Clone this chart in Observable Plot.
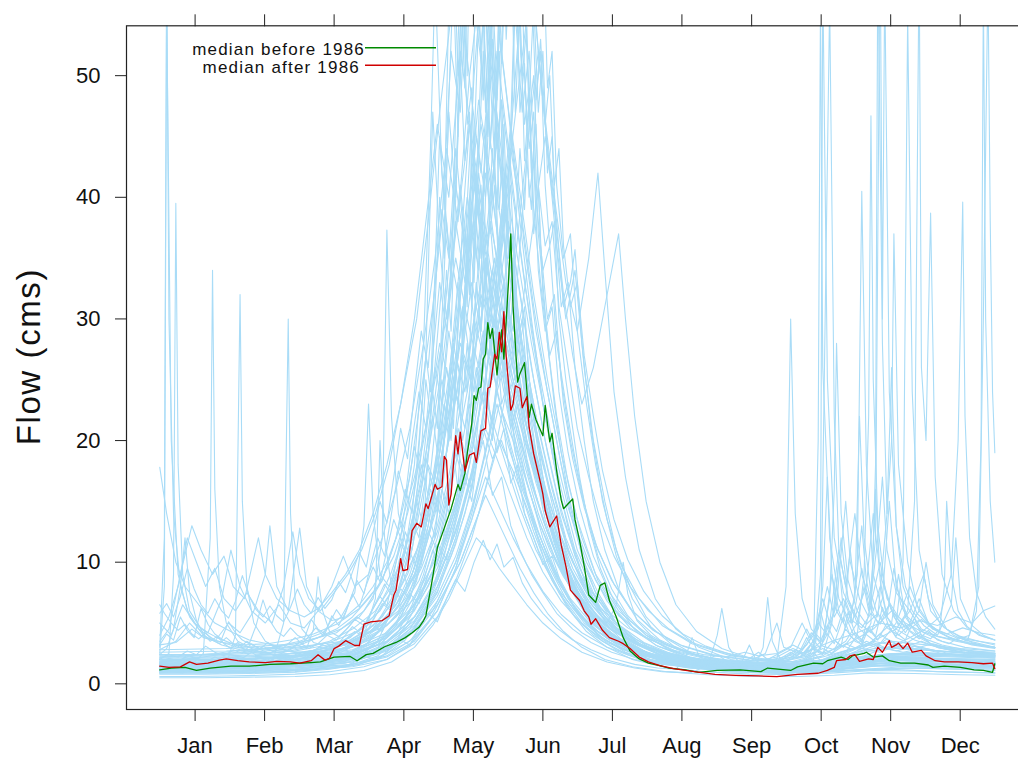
<!DOCTYPE html>
<html>
<head>
<meta charset="utf-8">
<script src="https://cdn.jsdelivr.net/npm/d3@7"></script>
<script src="https://cdn.jsdelivr.net/npm/@observablehq/plot@0.6"></script>
<style>
  html, body { margin: 0; padding: 0; background: #fff; overflow: hidden; }
  #chart svg { display: block; max-width: none; }
</style>
</head>
<body>
<div id="chart"></div>
<script>
// ---------- data (day of year, flow in cms) ----------
const monthLabels = ["Jan","Feb","Mar","Apr","May","Jun","Jul","Aug","Sep","Oct","Nov","Dec"];
const monthTicks  = [16.4, 46.7, 77.0, 107.4, 137.7, 168.0, 198.3, 228.6, 259.0, 289.3, 319.6, 349.9];
const yTicks = [0, 10, 20, 30, 40, 50];

const medianBefore = [[1,1.15],[6,1.3],[12,1.35],[17,1.1],[23,1.3],[32,1.45],[40,1.45],[49,1.6],[58,1.65],[67,1.75],[71,1.8],[77,2.2],[84,2.25],[87,1.9],[91,2.4],[94,2.5],[99,3.05],[104,3.4],[108,3.8],[111,4.2],[114,4.65],[116,5.2],[117,5.6],[120,8.8],[122,11.2],[125,12.8],[128,14.4],[131,16.4],[132,15.9],[134,17.3],[135,18.9],[137,21.4],[138,23.7],[139,23.3],[140,24.3],[141,24.4],[142,26.7],[143,27.1],[144,29.7],[145,28.4],[146,29.2],[148,25.4],[149,27.4],[150,29.1],[151,26.7],[153,33],[154,37.0],[155,31],[157,24.8],[158,25.5],[160,26.4],[162,21.9],[163,23.0],[165,21.7],[168,20.4],[169,22.9],[171,19.9],[172,20.6],[174,17.5],[176,15.1],[177,14.4],[179,14.8],[181,15.2],[182,13.5],[184,11.8],[186,9.7],[188,7.3],[191,6.7],[193,8.1],[195,8.3],[197,6.85],[200,5.5],[203,3.8],[206,2.7],[210,2.05],[214,1.7],[219,1.5],[223,1.3],[230,1.15],[236,0.95],[244,1.1],[254,1.15],[263,1.0],[266,1.3],[276,1.1],[279,1.4],[286,1.7],[290,1.65],[292,1.9],[298,2.2],[301,2.0],[303,2.3],[308,2.5],[309,2.6],[312,2.2],[316,2.3],[319,1.9],[324,1.7],[330,1.7],[336,1.55],[338,1.35],[343,1.45],[350,1.35],[356,1.15],[360,1.1],[364,0.95],[365,1.65]];

const medianAfter = [[1,1.45],[5,1.35],[10,1.4],[14,1.8],[17,1.6],[22,1.7],[27,1.95],[30,2.05],[35,1.9],[40,1.8],[47,1.75],[52,1.85],[58,1.8],[62,1.7],[67,1.9],[70,2.4],[73,1.95],[75,2.1],[77,2.9],[79,3.1],[82,3.55],[86,3.15],[88,3.15],[90,4.9],[93,5.1],[98,5.2],[101,5.6],[103,7.3],[104,7.7],[106,10.3],[107,9.3],[109,9.4],[111,12.6],[113,13.2],[115,12.9],[117,14.8],[118,14.4],[121,16.4],[122,16.0],[124,16.2],[125,18.7],[126,18.4],[127,14.7],[128,15.6],[130,20.4],[131,18.9],[132,20.7],[134,17.5],[136,18.8],[138,19.0],[139,18.2],[141,20.8],[143,21.0],[144,24.3],[145,24.4],[147,27.1],[148,26.7],[149,28.9],[150,27.3],[151,30.6],[152,26.9],[154,22.5],[155,23.0],[156,24.5],[158,24.3],[159,22.7],[161,23.6],[162,21.1],[164,18.9],[165,18.1],[167,16.5],[168,15.6],[169,14.25],[171,12.9],[174,13.8],[176,11.4],[178,9.7],[180,7.7],[184,6.85],[186,6.0],[188,5.5],[189,4.9],[191,5.35],[194,4.4],[197,3.8],[201,3.5],[203,3.3],[206,2.9],[210,2.2],[214,1.8],[219,1.5],[225,1.25],[234,1.0],[243,0.77],[252,0.7],[262,0.65],[270,0.6],[279,0.77],[288,0.87],[292,1.1],[295,1.35],[296,1.9],[300,2.0],[302,2.3],[304,2.4],[306,1.85],[310,2.05],[312,2.0],[314,3.0],[316,2.6],[319,3.55],[320,3.0],[322,3.2],[323,3.35],[325,2.9],[327,3.35],[329,2.6],[333,2.75],[335,2.3],[339,1.9],[343,1.8],[349,1.8],[355,1.75],[360,1.65],[364,1.7],[365,1.25]];

const year01 = [[1,17.8],[4,14],[8,10],[12,8],[18,6.5],[25,5],[33,4.2],[40,3.6],[48,3.3],[55,3],[62,3.2],[70,3.8],[78,4.5],[85,5.5],[92,7],[98,8.5],[104,12],[110,17],[115,24],[120,31],[124,38],[128,52],[132,47],[136,63],[140,58],[145,70],[150,52],[155,44],[160,36],[165,29],[170,24],[175,19],[180,14],[186,10],[192,7.5],[200,5],[210,3.2],[220,2.3],[232,1.7],[245,1.3],[260,1.1],[275,1.2],[285,1.6],[295,2.4],[305,3],[315,2.6],[325,3.4],[335,2.9],[345,2.5],[355,2.3],[365,2.1]];
const year02 = [[1,3],[3,12],[4,60],[5,30],[7,14],[10,8],[14,5.5],[20,4],[28,3.2],[36,2.8],[45,2.5],[55,2.6],[65,3],[75,3.5],[85,4.5],[95,6],[102,8],[108,11],[114,16],[120,22],[125,30],[130,41],[134,36],[138,50],[143,62],[148,55],[153,47],[158,38],[163,30],[168,23],[174,17],[180,12],[187,8],[195,5.5],[205,3.5],[215,2.4],[228,1.7],[245,1.2],[265,1],[285,1.1],[300,1.5],[315,2],[330,2.2],[345,2],[365,1.8]];
const year03 = [[1,2.5],[3,8],[4,56],[6,20],[9,9],[13,6],[18,4.5],[25,3.6],[35,3],[45,2.6],[55,2.3],[65,2.4],[75,2.8],[85,3.4],[95,4.5],[105,6],[112,9],[118,13],[124,19],[130,26],[135,33],[140,42],[144,36],[148,45],[152,38],[157,30],[162,24],[167,19],[173,14],[180,9.5],[188,6.5],[196,4.5],[206,3],[218,2],[232,1.4],[250,1],[270,0.9],[290,1],[305,1.4],[320,1.8],[340,1.6],[365,1.5]];
const year04 = [[1,2],[5,2.5],[7,9],[8,39.5],[9,18],[11,9],[14,6],[19,4.5],[26,3.8],[34,3.2],[44,2.9],[54,2.7],[64,2.6],[74,3],[84,3.6],[94,4.8],[102,6.5],[109,9],[115,12],[121,16],[127,22],[132,28],[137,25],[141,32],[146,29],[151,24],[156,20],[162,16],[168,12],[175,8.5],[183,5.8],[192,4],[203,2.8],[215,2],[230,1.5],[250,1.1],[270,1],[290,1.2],[305,1.6],[320,2],[335,1.9],[350,1.7],[365,1.6]];
const year05 = [[1,1.5],[8,1.4],[15,1.6],[20,2.5],[23,12],[24,34],[25,16],[27,8],[30,5],[35,3.5],[42,2.8],[50,2.4],[60,2.3],[70,2.6],[80,3.2],[90,4.2],[98,5.5],[106,8],[113,11],[119,15],[125,21],[130,27],[134,24],[138,30],[143,35],[147,31],[152,26],[157,22],[163,18],[170,14],[177,10],[185,7],[193,4.8],[203,3.2],[215,2.2],[230,1.6],[248,1.2],[268,1],[288,1.1],[300,1.3],[315,1.7],[330,1.8],[348,1.6],[365,1.5]];
const year06 = [[1,1.2],[10,1.3],[20,1.4],[30,1.6],[34,4],[36,32],[37,15],[39,8],[42,5],[47,3.5],[54,2.8],[62,2.5],[72,2.7],[82,3.3],[92,4.2],[100,5.6],[108,7.5],[115,10],[121,14],[127,20],[132,26],[137,33],[141,29],[145,38],[150,33],[155,27],[160,22],[166,17],[172,13],[179,9],[187,6.2],[196,4.2],[206,2.9],[218,2],[233,1.4],[250,1.1],[270,0.9],[290,1],[305,1.3],[320,1.6],[340,1.5],[365,1.4]];
const year07 = [[1,1],[12,1.1],[25,1.2],[40,1.4],[50,1.7],[55,5],[57,30],[58,14],[60,7],[63,4.5],[68,3.4],[75,3],[83,3.3],[92,4],[100,5.2],[108,7],[115,9.5],[122,13],[128,18],[133,24],[138,30],[142,27],[146,34],[151,30],[156,25],[161,20],[167,16],[173,12],[180,8.5],[188,5.8],[197,3.9],[207,2.7],[219,1.9],[234,1.4],[252,1.1],[272,0.9],[292,1],[308,1.2],[325,1.4],[345,1.3],[365,1.2]];
const year08 = [[1,1.8],[10,2],[20,2.2],[30,2.5],[40,2.7],[50,3],[60,3.3],[70,3.8],[80,4.5],[88,5.5],[94,7],[98,12],[100,37.3],[102,22],[105,14],[109,11],[114,13],[120,17],[126,24],[131,31],[136,40],[140,48],[145,42],[150,34],[155,28],[160,22],[166,17],[173,12],[180,8.5],[188,6],[197,4],[208,2.8],[220,2],[235,1.5],[255,1.2],[275,1.1],[290,1.3],[305,1.8],[320,2.2],[335,2.1],[350,2],[365,1.9]];
const year09 = [[1,1.3],[15,1.4],[30,1.5],[45,1.7],[60,2],[72,2.4],[82,3],[90,4],[95,7],[97,20],[99,12],[102,8],[106,7],[111,9],[117,13],[123,19],[129,27],[134,35],[139,45],[143,40],[148,52],[153,44],[158,36],[163,29],[169,22],[175,16],[182,11],[190,7.5],[199,5],[210,3.3],[222,2.3],[237,1.6],[255,1.2],[275,1],[292,1.1],[310,1.5],[330,1.6],[350,1.5],[365,1.4]];
const year10 = [[1,2.2],[12,2.3],[25,2.5],[38,2.8],[50,3],[62,3.5],[72,4.2],[80,5.5],[86,7.5],[90,13],[92,23],[94,14],[97,9],[101,8],[106,10],[112,14],[118,19],[124,26],[129,34],[133,30],[137,39],[141,46],[146,40],[151,33],[156,27],[162,21],[168,16],[175,12],[183,8],[192,5.5],[202,3.7],[214,2.5],[228,1.8],[245,1.4],[265,1.2],[285,1.3],[300,1.8],[315,2.4],[330,2.6],[348,2.4],[365,2.2]];
const year11 = [[1,4],[5,5.5],[9,8],[13,12],[17,10],[21,8],[25,9.5],[29,7],[34,6],[39,7.5],[44,6],[50,5],[55,8],[59,12.5],[62,9],[66,7],[71,6],[77,7.5],[83,9],[89,11],[95,14],[101,18],[107,24],[113,30],[118,38],[123,47],[128,55],[133,62],[138,56],[143,48],[148,40],[154,33],[160,27],[166,21],[172,16],[179,11],[186,8],[195,5.5],[205,3.8],[217,2.6],[232,1.9],[250,1.5],[268,1.4],[285,1.7],[300,2.5],[312,3.5],[325,3],[340,2.7],[355,2.5],[365,2.4]];
const year12 = [[1,5],[6,4],[11,6.5],[16,5],[22,4.2],[28,7],[32,11],[36,8],[41,6],[47,5],[53,6.5],[58,5],[64,4.6],[70,6],[76,8],[81,10.5],[86,8],[92,9],[98,12],[104,16],[110,21],[116,28],[121,35],[126,44],[131,38],[136,50],[141,58],[146,50],[151,42],[157,35],[163,28],[169,22],[176,16],[183,11],[191,7.5],[200,5],[212,3.4],[225,2.4],[240,1.8],[258,1.5],[275,1.6],[290,2.2],[305,3],[320,3.5],[335,3.2],[350,2.9],[365,2.7]];
const year13 = [[1,0.6],[15,0.6],[30,0.65],[45,0.7],[60,0.8],[75,1],[90,1.4],[100,2],[110,3.2],[118,5],[125,7.5],[132,10],[138,13],[143,15.5],[148,13.5],[153,11.5],[158,9.5],[164,7.5],[170,5.8],[177,4.3],[185,3],[195,2],[207,1.4],[222,1],[240,0.75],[260,0.6],[280,0.6],[295,0.7],[310,0.9],[330,0.85],[350,0.75],[365,0.7]];
const year14 = [[1,0.8],[20,0.8],[40,0.85],[60,0.95],[75,1.2],[88,1.6],[100,2.5],[108,3.6],[115,5.5],[121,8],[127,11],[133,14.5],[138,18],[142,21],[146,18.5],[150,20],[155,17],[160,14],[166,11],[172,8.5],[179,6.2],[187,4.3],[196,3],[207,2],[220,1.4],[238,1],[258,0.8],[278,0.75],[295,0.9],[312,1.1],[330,1.05],[350,0.95],[365,0.9]];
const year15 = [[1,1],[20,1],[40,1.1],[60,1.2],[75,1.5],[88,2.2],[96,3.5],[102,6],[106,10],[109,8],[113,9],[118,12],[123,16],[128,21],[133,27],[138,24],[142,29],[147,25],[152,21],[157,17.5],[163,14],[169,11],[176,8],[184,5.6],[193,3.9],[204,2.6],[217,1.8],[232,1.3],[250,1],[270,0.85],[290,0.95],[310,1.2],[330,1.3],[350,1.2],[365,1.1]];
const year16 = [[1,1.5],[20,1.5],[40,1.6],[60,1.8],[78,2.2],[92,3],[104,4.5],[114,7],[122,10],[130,15],[137,21],[143,28],[149,36],[154,45],[158,55],[162,62],[166,52],[170,44],[174,36],[178,30],[182,34],[186,26],[190,20],[195,15],[200,11],[206,8],[213,5.5],[222,3.7],[233,2.5],[247,1.8],[265,1.4],[285,1.3],[300,1.6],[315,2],[335,1.9],[365,1.7]];
const year17 = [[1,1.2],[25,1.2],[50,1.4],[75,1.8],[95,2.8],[108,4.5],[118,7],[127,11],[135,17],[142,24],[148,32],[153,42],[158,50],[163,58],[168,48],[173,40],[178,33],[183,29],[188,35],[192,42],[195,34],[199,24],[204,17],[210,11],[217,7],[226,4.5],[236,3],[250,2],[268,1.5],[288,1.4],[305,1.7],[325,2],[345,1.8],[365,1.6]];
const year18 = [[1,0.9],[25,0.9],[50,1],[75,1.3],[95,2],[110,3.5],[120,6],[130,10],[138,15],[145,21],[151,28],[156,35],[161,44],[166,52],[170,44],[174,38],[177,31],[180,33],[182,35.7],[185,28],[189,21],[194,15],[200,10.5],[207,7],[215,4.7],[225,3.1],[238,2.1],[255,1.5],[275,1.2],[295,1.2],[315,1.5],[340,1.4],[365,1.3]];
const year19 = [[1,1.4],[25,1.4],[50,1.5],[75,1.8],[95,2.6],[110,4],[122,6.5],[132,10],[140,14],[147,19],[153,25],[159,31],[164,38],[169,45],[173,39],[177,32],[181,27],[185,23],[190,26],[195,31],[199,35],[201,37],[204,30],[208,22],[213,15],[219,10],[226,6.5],[235,4.3],[246,2.9],[260,2],[278,1.6],[295,1.6],[312,2],[330,2.1],[350,1.9],[365,1.7]];
const year20 = [[1,1.6],[15,1.7],[30,1.9],[45,2.1],[60,2.3],[72,2.7],[84,3.4],[95,4.6],[104,6.5],[112,9],[119,13],[125,18],[130,24],[134,21],[138,27],[143,32],[148,28],[153,24],[158,26],[163,22],[168,18],[174,14],[181,10],[189,7],[198,4.8],[209,3.2],[221,2.2],[236,1.6],[254,1.2],[274,1],[292,1.1],[310,1.5],[330,1.6],[350,1.5],[365,1.4]];
const year21 = [[1,1.1],[30,1.1],[60,1.2],[85,1.5],[100,2.2],[112,3.5],[122,6],[130,9.5],[137,14],[143,19],[148,24],[153,20],[158,16],[164,12.5],[170,9.5],[177,7],[185,5],[194,3.5],[205,2.4],[218,1.7],[232,1.3],[248,1.1],[262,1.2],[270,2],[274,8],[276,30],[278,14],[281,7],[285,4.5],[290,3.5],[295,6],[298,12],[301,7],[306,4.5],[312,3.6],[320,5],[323,9],[326,5.5],[332,3.8],[340,3],[350,2.6],[365,2.3]];
const year22 = [[1,1.3],[30,1.3],[60,1.4],[85,1.8],[100,2.8],[110,4.5],[118,7],[125,10.5],[131,15],[136,20],[141,27],[146,34],[151,29],[156,24],[162,19],[168,15],[175,11],[183,7.5],[192,5],[203,3.3],[215,2.3],[230,1.6],[248,1.2],[265,1],[280,1.1],[286,2],[289,9],[290,58],[292,25],[295,12],[299,7.5],[304,5.5],[309,8],[312,14],[315,9],[320,6],[326,4.6],[333,3.8],[342,3.2],[352,2.8],[365,2.5]];
const year23 = [[1,2],[25,2],[50,2.2],[75,2.6],[92,3.6],[104,5.5],[114,8.5],[122,12.5],[129,18],[135,24],[140,31],[145,40],[150,48],[155,40],[160,33],[166,26],[172,20],[179,14.5],[187,10],[196,6.8],[206,4.6],[218,3.1],[232,2.2],[250,1.6],[268,1.4],[282,1.6],[289,3],[293,56],[295,22],[297,11],[301,7],[306,5],[311,4.2],[316,7],[319,15],[322,8],[327,5.5],[334,4.2],[342,3.5],[352,3],[365,2.7]];
const year24 = [[1,1.7],[30,1.7],[60,1.9],[85,2.4],[100,3.5],[112,5.5],[121,8.5],[129,13],[136,18],[142,24],[148,31],[153,38],[158,32],[163,26],[169,20],[175,15],[182,10.5],[190,7],[200,4.6],[212,3.1],[226,2.2],[242,1.6],[260,1.3],[278,1.3],[292,1.8],[300,2.6],[305,4],[308,9],[310,22],[311,46.7],[312,25],[314,13],[317,8],[321,5.5],[326,4.2],[332,6],[335,10],[338,6.5],[344,4.5],[352,3.6],[365,3]];
const year25 = [[1,1.4],[30,1.4],[60,1.5],[85,1.9],[100,2.8],[112,4.5],[122,7.5],[130,12],[137,17],[143,23],[149,30],[154,37],[159,31],[164,25],[170,19],[176,14],[184,9.5],[193,6.3],[204,4.2],[216,2.8],[230,2],[246,1.5],[264,1.3],[282,1.4],[296,2],[306,2.8],[311,5],[313,18],[314,60],[316,28],[318,14],[320,20],[321,37],[323,18],[327,10],[331,6.5],[337,4.8],[345,3.8],[355,3.2],[365,2.9]];
const year26 = [[1,1.9],[30,2],[60,2.2],[85,2.7],[100,3.8],[112,6],[122,9.5],[130,14],[137,20],[143,27],[149,35],[154,44],[159,38],[164,31],[170,24],[176,18],[183,12.5],[191,8.5],[201,5.6],[213,3.8],[227,2.6],[243,1.9],[260,1.6],[276,1.7],[290,2.3],[300,3.5],[305,5],[308,8],[310,6],[313,12],[315,62],[316,30],[317,58],[319,24],[322,13],[326,8],[331,5.8],[338,4.6],[348,3.8],[365,3.3]];
const year27 = [[1,1.5],[30,1.5],[60,1.7],[85,2.1],[100,3],[112,4.8],[122,7.6],[130,11.5],[137,16],[143,22],[149,29],[155,25],[161,21],[167,17],[173,13],[180,9.5],[188,6.8],[198,4.7],[210,3.2],[224,2.3],[240,1.7],[258,1.4],[276,1.4],[292,1.9],[305,2.6],[315,3.3],[322,5],[325,10],[327,55],[329,24],[332,11],[336,7],[341,5],[347,4],[353,3.5],[357,6],[359,20],[360,57],[361,30],[363,15],[365,10]];
const year28 = [[1,2.6],[30,2.7],[60,3],[85,3.6],[100,4.8],[112,7],[122,10.5],[130,15],[137,21],[143,28],[149,37],[154,46],[159,39],[164,32],[170,25],[176,19],[183,13.5],[191,9],[201,6],[213,4],[227,2.8],[243,2],[260,1.7],[276,1.8],[290,2.5],[302,3.4],[312,4.5],[320,6],[326,5],[333,4.3],[340,3.9],[348,3.6],[354,4],[358,8],[360,30],[362,58],[363,38],[364,24],[365,19]];
const year29 = [[1,1.2],[30,1.2],[60,1.3],[85,1.6],[100,2.3],[112,3.8],[122,6],[130,9.5],[137,13.5],[143,18],[149,23],[155,20],[161,16.5],[167,13],[174,10],[182,7.2],[191,5],[201,3.5],[213,2.4],[228,1.7],[245,1.3],[263,1.1],[280,1.2],[295,1.6],[308,2.3],[318,3],[326,3.6],[334,4.4],[341,5.5],[346,9],[349,20],[351,39.6],[352,22],[354,12],[357,7.5],[361,5.5],[365,4.5]];
const year30 = [[1,1.8],[30,1.8],[60,2],[85,2.5],[100,3.5],[112,5.5],[122,8.5],[130,12.5],[137,17.5],[143,23],[149,30],[155,26],[161,21],[167,17],[174,13],[181,9.5],[189,6.8],[199,4.7],[211,3.2],[225,2.3],[241,1.7],[258,1.4],[275,1.5],[290,2],[303,2.8],[313,3.6],[322,4.5],[327,6],[330,15],[332,60],[333,26],[335,20],[337,38.7],[339,17],[342,9],[347,6],[353,4.6],[360,3.9],[365,3.6]];
const year31 = [[1,1],[30,1],[60,1.1],[85,1.4],[100,2],[112,3.3],[122,5.5],[130,8.5],[137,12],[143,16],[149,20],[155,17.5],[161,14.5],[167,11.5],[174,8.6],[182,6.2],[191,4.4],[202,3],[215,2],[230,1.4],[248,1.1],[265,1],[280,1.2],[286,3],[288,20],[289,56],[290,26],[293,12],[297,7],[302,5],[305,9],[307,40.5],[309,18],[312,9],[316,6],[322,4.5],[330,3.6],[340,3],[352,2.6],[365,2.4]];
const year32 = [[1,1.3],[25,1.3],[50,1.4],[70,1.7],[85,2.3],[97,3.5],[106,5.5],[113,8.5],[118,13],[122,19],[126,28],[129,38],[132,50],[135,64],[138,56],[141,66],[145,54],[149,44],[154,35],[159,28],[165,22],[171,17],[178,12],[186,8.2],[195,5.5],[206,3.6],[219,2.4],[235,1.7],[253,1.3],[272,1.1],[292,1.2],[310,1.6],[330,1.8],[350,1.6],[365,1.5]];
const year33 = [[1,2.4],[20,2.4],[40,2.6],[60,2.9],[75,3.4],[87,4.3],[97,6],[105,8.5],[111,12],[116,17],[120,24],[124,33],[127,47],[130,40],[133,55],[137,48],[141,42],[145,51],[149,43],[154,34],[159,27],[165,21],[171,16],[178,11.5],[186,7.8],[195,5.2],[206,3.5],[219,2.4],[236,1.7],[254,1.4],[274,1.3],[292,1.6],[310,2.2],[330,2.5],[350,2.4],[365,2.3]];
const year34 = [[1,1.6],[25,1.6],[50,1.8],[70,2.2],[84,3],[94,4.5],[102,7],[108,11],[113,17],[117,27],[120,47],[123,36],[126,30],[130,38],[134,33],[138,42],[143,36],[148,29],[154,23],[160,18],[166,14],[173,10.5],[181,7.5],[190,5.2],[200,3.6],[212,2.5],[227,1.8],[245,1.4],[265,1.2],[285,1.3],[305,1.7],[325,2],[345,1.9],[365,1.8]];
const year35 = [[1,2.1],[25,2.1],[50,2.3],[70,2.8],[84,3.8],[94,5.5],[101,8],[107,12],[112,18],[116,28],[119,44],[121,58],[124,42],[128,34],[132,40],[136,46],[140,39],[145,33],[150,27],[156,22],[162,17],[169,13],[176,9.5],[184,6.8],[193,4.8],[204,3.3],[217,2.3],[233,1.7],[252,1.3],[272,1.2],[292,1.4],[312,1.9],[335,2.1],[365,2]];
const year36 = [[1,2.8],[8,3.5],[14,5],[19,4],[25,3.5],[31,5],[36,4.2],[42,6],[47,9],[49,13],[52,8],[57,6],[62,12.8],[65,8],[70,6],[76,5.2],[82,5.5],[88,6.5],[94,8],[100,10],[106,13],[112,17],[118,22],[124,28],[130,35],[135,30],[140,26],[145,31],[150,27],[156,22],[162,17.5],[168,13.5],[175,10],[183,7],[192,4.9],[203,3.4],[216,2.4],[232,1.8],[250,1.5],[268,1.4],[285,1.7],[300,2.4],[315,3],[330,2.8],[350,2.6],[365,2.5]];
const year37 = [[1,0.5],[20,0.5],[40,0.55],[60,0.6],[75,0.75],[90,1.1],[102,1.8],[112,3],[120,4.8],[127,7],[133,9.5],[139,12],[144,11],[149,9.5],[155,8],[161,6.5],[168,5],[176,3.7],[185,2.6],[196,1.8],[208,1.3],[220,1],[232,0.9],[240,1.5],[244,4],[246,6.2],[249,3],[254,1.6],[260,1.2],[264,3],[266,7.1],[268,3.5],[272,1.8],[280,1.2],[292,1],[305,1.1],[320,1.2],[340,1],[365,0.9]];
const year38 = [[1,3.5],[5,4.5],[10,9],[15,13],[19,11],[24,9],[29,10.5],[33,8],[38,7],[44,12],[47,9],[52,7],[58,6],[64,5.5],[70,6.2],[76,7.5],[82,9],[88,11],[94,14],[100,18],[106,23],[112,30],[117,38],[122,46],[127,40],[132,52],[137,45],[142,38],[147,32],[153,26],[159,21],[165,16.5],[172,12.5],[179,9],[187,6.3],[196,4.4],[207,3],[220,2.1],[236,1.6],[254,1.3],[272,1.3],[290,1.7],[305,2.5],[320,3],[335,2.8],[350,2.6],[365,2.5]];
const year39 = [[1,1.5],[30,1.5],[60,1.6],[85,2],[100,2.9],[112,4.6],[122,7.2],[130,10.5],[137,14.5],[143,19],[148,23],[153,19.5],[159,16],[165,12.8],[172,9.8],[180,7],[189,5],[199,3.5],[211,2.4],[225,1.8],[240,1.5],[255,1.6],[265,2.5],[270,5],[273,3],[280,2.5],[286,4],[290,7],[293,5],[297,11],[300,8],[304,14],[307,9],[311,6.5],[315,10],[318,7],[323,5.5],[328,8],[332,6],[338,4.5],[345,3.8],[353,3.4],[365,3]];
const year40 = [[1,2],[30,2],[60,2.1],[85,2.5],[100,3.4],[112,5.2],[122,8],[130,12],[136,16.5],[142,22],[147,28],[152,24],[158,20],[164,16],[170,12.5],[177,9.3],[185,6.7],[194,4.7],[205,3.2],[218,2.3],[232,1.8],[248,1.5],[262,1.6],[275,2],[283,3.2],[288,5],[292,4],[296,6.5],[300,15],[302,10],[306,7],[310,5.5],[314,12],[316,17],[318,11],[322,7.5],[328,6],[334,9],[337,6],[343,4.6],[350,3.9],[358,3.5],[365,3.2]];
const year41 = [[1,1.6],[30,1.7],[60,2],[80,2.6],[95,4],[102,6],[106,8.5],[110,11],[113,15],[116,13],[118,19],[120,24],[122,21],[124,30],[126,38],[128,33],[130,47],[132,58],[134,49],[136,66],[138,72],[140,57],[142,63],[144,51],[146,55],[148,44],[150,48],[152,38],[154,41],[156,33],[158,29],[160,31],[162,25],[165,21],[168,17],[172,13],[177,9.5],[183,7],[190,5],[200,3.4],[212,2.4],[228,1.7],[250,1.3],[275,1.2],[300,1.8],[320,2.3],[340,2.1],[365,1.9]];
const year42 = [[1,2.2],[30,2.2],[60,2.5],[80,3.1],[95,4.5],[104,6.5],[110,9],[115,12],[119,16],[122,14],[125,20],[128,26],[131,23],[134,32],[136,40],[138,35],[140,46],[142,55],[144,48],[146,62],[148,74],[150,60],[152,82],[154,66],[156,58],[158,64],[160,50],[162,44],[164,47],[166,37],[168,33],[170,28],[173,23],[176,19],[180,14.5],[185,10.5],[191,7.5],[199,5.2],[209,3.6],[222,2.5],[240,1.8],[262,1.5],[285,1.6],[305,2.2],[330,2.6],[365,2.3]];
const year43 = [[1,1.3],[30,1.3],[60,1.5],[82,2],[96,3.2],[104,5],[110,7.5],[114,10],[118,14],[121,12],[124,18],[127,25],[129,21],[131,30],[133,38],[135,31],[137,45],[139,60],[141,52],[143,58],[145,44],[147,50],[149,39],[151,46],[153,35],[155,37],[157,28],[159,30],[162,23],[165,19],[169,15],[174,11],[180,8],[187,5.6],[196,3.9],[207,2.7],[222,1.9],[242,1.4],[265,1.2],[290,1.3],[315,1.7],[340,1.6],[365,1.5]];
const year44 = [[1,1.8],[30,1.8],[60,2],[85,2.6],[100,3.8],[110,5.5],[118,8],[124,11],[129,14],[133,18],[137,16],[140,22],[143,28],[146,25],[149,34],[151,42],[153,37],[155,50],[157,63],[159,55],[161,70],[163,58],[165,48],[167,52],[169,41],[171,36],[173,38],[175,30],[178,25],[181,21],[184,17],[188,13],[193,9.5],[199,6.8],[207,4.7],[217,3.2],[230,2.2],[248,1.6],[270,1.4],[295,1.6],[320,2],[345,1.9],[365,1.8]];
const year45 = [[1,1.1],[30,1.1],[60,1.3],[82,1.7],[96,2.7],[105,4.3],[111,6.5],[116,9],[120,12],[124,16],[127,14],[130,21],[133,27],[135,24],[137,31],[139,38],[141,33],[143,45],[145,39],[147,43],[149,34],[151,37],[153,29],[155,31],[158,25],[161,21],[165,17],[169,13.5],[174,10.5],[180,7.8],[187,5.6],[196,3.9],[207,2.7],[222,1.9],[242,1.4],[265,1.1],[290,1.2],[315,1.5],[340,1.4],[365,1.3]];
const year46 = [[1,2.8],[30,2.9],[60,3.3],[78,4.2],[90,6],[98,8.5],[104,12],[108,16],[111,14],[114,20],[117,27],[119,24],[121,34],[123,45],[125,39],[127,56],[129,62],[131,50],[133,58],[135,46],[137,49],[139,38],[141,41],[143,32],[146,27],[149,29],[152,23],[156,19],[160,16],[165,12.5],[171,9.5],[178,7],[186,5],[196,3.5],[208,2.5],[224,1.8],[245,1.4],[270,1.3],[295,1.8],[320,2.4],[345,2.3],[365,2.2]];
const year47 = [[1,1.4],[30,1.4],[60,1.6],[85,2.1],[100,3.2],[112,5],[121,7.5],[128,10.5],[134,14],[139,18],[143,23],[146,20],[149,27],[152,33],[154,29],[156,37],[158,44],[160,39],[162,48],[164,56],[166,47],[168,52],[170,42],[172,45],[174,36],[176,31],[179,33],[182,26],[186,20],[190,15],[195,11],[201,7.8],[209,5.3],[219,3.6],[232,2.5],[250,1.8],[272,1.4],[295,1.5],[320,1.9],[345,1.8],[365,1.7]];
const year48 = [[1,1.9],[30,1.9],[60,2.2],[82,2.8],[96,4.2],[105,6.5],[112,9.5],[117,13],[121,17],[125,23],[128,20],[131,29],[134,37],[136,32],[138,44],[140,55],[142,48],[144,66],[146,80],[148,70],[150,88],[152,71],[154,62],[156,68],[158,53],[160,46],[162,49],[164,39],[167,33],[170,28],[174,22],[179,16.5],[185,12],[192,8.5],[200,6],[210,4.1],[224,2.8],[243,2],[266,1.6],[290,1.7],[315,2.2],[340,2.1],[365,2]];
const year49 = [[1,0.9],[30,0.9],[60,1],[82,1.4],[96,2.3],[105,3.8],[111,5.8],[116,8.5],[120,11],[123,9.5],[126,14],[129,19],[131,16],[133,23],[135,28],[137,24],[139,33],[141,29],[143,35],[145,27],[147,30],[150,23],[153,25],[156,19],[160,16],[164,13],[169,10],[175,7.5],[182,5.5],[190,4],[200,2.8],[213,2],[230,1.4],[252,1.1],[275,0.95],[300,1.1],[325,1.3],[350,1.2],[365,1.1]];
const year50 = [[1,1.5],[30,1.5],[60,1.7],[84,2.2],[98,3.4],[108,5.3],[116,8],[122,11],[127,15],[131,19],[134,17],[137,24],[140,30],[142,27],[144,36],[146,44],[148,39],[150,52],[152,65],[154,55],[156,60],[158,47],[160,51],[162,40],[164,43],[166,34],[169,29],[172,31],[175,24],[179,19],[184,14.5],[190,10.5],[197,7.5],[206,5.2],[217,3.6],[232,2.5],[252,1.8],[275,1.5],[300,1.7],[325,2],[350,1.9],[365,1.8]];
const year51 = [[1,2.4],[30,2.4],[60,2.7],[80,3.4],[93,5],[101,7.3],[107,10],[111,13.5],[114,12],[117,17],[120,22],[122,19],[124,27],[126,34],[128,29],[130,40],[132,51],[134,43],[136,47],[138,37],[140,41],[142,32],[144,35],[147,27],[150,29],[153,23],[157,19],[161,15.5],[166,12.5],[172,9.5],[179,7],[187,5],[197,3.6],[209,2.6],[225,1.9],[246,1.5],[270,1.4],[295,1.9],[320,2.5],[345,2.4],[365,2.3]];
const year52 = [[1,2],[30,2],[60,2.2],[85,2.8],[100,4],[111,6],[119,8.8],[126,12],[132,16],[137,21],[141,26],[144,23],[147,31],[150,39],[152,35],[154,46],[156,58],[158,72],[160,85],[162,69],[164,74],[166,58],[168,62],[170,49],[172,52],[174,41],[177,35],[180,37],[183,29],[187,23],[191,18],[196,13.5],[202,9.8],[210,7],[220,4.8],[233,3.3],[250,2.3],[272,1.8],[297,2],[322,2.4],[345,2.3],[365,2.2]];
const year53 = [[1,1.7],[30,1.7],[60,1.9],[85,2.4],[100,3.5],[112,5.5],[122,8.5],[130,12.5],[137,17],[143,21],[149,18],[155,15],[161,12],[168,9.2],[176,6.8],[185,4.9],[196,3.4],[209,2.4],[225,1.8],[242,1.5],[258,1.5],[270,1.8],[278,2.6],[283,4.5],[286,3.4],[289,6],[291,4.5],[294,9],[296,6],[299,5],[302,11],[304,7.5],[307,13],[309,8.5],[312,6],[315,8],[318,5.5],[321,9.5],[324,6.5],[328,5],[332,7],[336,5],[341,4.2],[347,3.7],[355,3.3],[365,3]];
const year54 = [[1,1.3],[30,1.3],[60,1.4],[85,1.8],[100,2.7],[112,4.3],[122,6.8],[130,10],[137,13.5],[143,17],[149,14.5],[155,12],[161,9.8],[168,7.6],[176,5.7],[185,4.2],[196,3],[209,2.1],[225,1.6],[242,1.3],[258,1.2],[272,1.4],[282,2],[287,3.5],[290,8],[292,17],[294,9],[297,6],[300,4.6],[304,7],[306,22],[308,12],[311,7.5],[314,5.5],[318,14],[320,26],[322,13],[325,8],[329,6],[334,4.8],[340,4],[346,6.5],[348,12],[350,7],[355,4.8],[360,4],[365,3.6]];
const year55 = [[1,2.3],[30,2.3],[60,2.5],[85,3],[100,4.2],[112,6.5],[122,10],[130,14.5],[137,19.5],[142,24],[147,21],[152,18],[158,14.5],[165,11],[173,8.2],[182,6],[192,4.3],[204,3.1],[218,2.3],[235,1.8],[252,1.7],[266,2],[276,3],[281,5],[284,3.8],[288,4.5],[292,8],[295,5.5],[299,7],[303,5],[307,9.5],[310,6.5],[314,5],[319,6.5],[323,4.8],[328,6],[333,4.5],[340,3.9],[348,3.5],[357,3.2],[365,3]];
const year56 = [[1,3.2],[8,3.4],[15,4.5],[20,3.8],[28,3.4],[38,3.2],[48,3.3],[58,3.6],[68,4.1],[78,4.9],[88,6.2],[96,8],[103,10.5],[109,14],[114,18],[119,23],[123,28],[127,25],[131,33],[135,40],[139,35],[143,42],[147,36],[151,30],[156,25],[161,20],[167,15.5],[173,11.5],[180,8.5],[188,6.2],[197,4.5],[208,3.3],[221,2.5],[236,2],[252,1.8],[268,2],[282,2.6],[294,3.5],[305,4.2],[315,5],[324,4.6],[332,5.2],[340,4.8],[348,5.5],[355,5],[360,6],[365,6.4]];
const year57 = [[1,3.2],[4,4.1],[7,3.6],[10,5.5],[13,4.4],[16,3.8],[19,6.2],[22,4.9],[25,4.1],[28,3.7],[31,5.1],[34,4.2],[37,3.6],[40,3.3],[43,4.8],[46,6.9],[49,5.2],[52,4.3],[55,3.9],[58,4.6],[61,4],[64,3.7],[67,5.3],[70,4.5],[73,4.1],[76,5.6],[79,4.8],[82,5.9],[85,7.4],[88,6.3],[91,8.1],[94,9.6],[97,8.4],[100,11],[103,13.5],[106,12],[109,16],[112,19.5],[115,17],[118,22],[121,26],[124,23],[127,29],[130,25],[133,31],[136,27],[139,24],[142,28],[145,22],[148,19],[151,21],[154,16.5],[157,18],[160,14],[164,12],[168,9.8],[172,10.5],[176,8.2],[181,6.6],[186,5.4],[192,4.3],[199,3.4],[207,2.7],[216,2.2],[226,1.9],[236,1.7],[244,2.4],[248,1.9],[255,1.7],[262,2.6],[266,2],[272,1.9],[278,2.8],[282,2.3],[286,3.6],[289,2.9],[292,4.8],[295,3.6],[298,3.1],[301,5.9],[304,4.2],[307,3.6],[310,4.7],[313,3.9],[316,6.3],[319,4.6],[322,3.9],[325,5.2],[328,4.3],[332,3.7],[336,4.4],[340,3.6],[345,3.3],[350,3.9],[355,3.4],[360,3.1],[365,3]];
const year58 = [[1,2.4],[4,2.9],[7,4.5],[10,8],[12,12],[14,7.5],[17,5.2],[20,4.1],[23,3.5],[26,3.9],[29,3.3],[32,2.9],[35,3.4],[38,2.8],[42,2.6],[46,3.1],[50,2.7],[54,2.5],[58,2.9],[62,3.4],[66,2.9],[70,3.3],[74,4],[78,3.6],[82,4.4],[86,5.3],[90,4.8],[94,6.2],[98,7.5],[102,9.2],[106,11.5],[110,10.2],[114,14],[118,18],[122,16],[126,22],[129,28],[132,25],[135,34],[138,41],[141,37],[144,49],[147,58],[150,51],[153,64],[156,55],[159,47],[162,52],[165,40],[168,34],[171,36],[174,28],[178,23],[182,18.5],[187,14],[192,10.5],[198,7.8],[205,5.6],[213,4],[222,2.9],[232,2.2],[242,1.8],[252,1.6],[262,1.6],[270,1.9],[276,2.6],[280,2.2],[285,3.3],[288,2.7],[292,4.1],[295,3.3],[299,5.5],[302,3.9],[306,3.4],[310,4.5],[314,3.6],[318,5],[322,3.8],[327,3.4],[332,4],[337,3.3],[343,3],[350,2.8],[358,2.6],[365,2.5]];
const year59 = [[1,1.6],[5,1.9],[9,1.7],[13,2.4],[17,2],[21,1.8],[25,2.2],[29,1.9],[33,1.7],[37,2.1],[41,2.6],[45,2.1],[49,1.9],[53,2.3],[57,2],[61,2.5],[65,2.2],[69,2.8],[73,3.4],[77,2.9],[81,3.8],[85,4.7],[89,4.1],[93,5.9],[97,7.2],[100,6.4],[103,9],[106,12],[109,10.5],[112,14.5],[115,18],[118,15.5],[121,21],[124,25],[127,22],[130,26],[133,20],[136,23],[139,18],[142,20],[146,15.5],[150,17],[154,13],[158,11],[163,9],[168,7.5],[174,5.8],[181,4.5],[189,3.4],[198,2.6],[208,2],[220,1.6],[232,1.4],[243,1.3],[252,1.8],[256,1.5],[264,1.4],[272,1.6],[279,2.3],[283,3.8],[286,2.8],[290,2.4],[294,5],[297,10],[299,6],[303,4.2],[307,3.4],[311,6.5],[313,16],[315,8.5],[318,5.5],[322,4.2],[326,3.6],[330,5.4],[333,4],[337,3.3],[342,2.9],[348,2.7],[355,2.5],[365,2.3]];
const year60 = [[1,5.8],[4,6.6],[7,5.5],[10,7.2],[13,9.5],[16,7.8],[19,6.5],[22,5.8],[25,7],[28,6],[31,5.4],[34,6.8],[37,8.9],[40,7.2],[43,6.1],[46,5.5],[49,6.4],[52,5.6],[55,5.1],[58,6.3],[61,7.8],[64,6.5],[67,5.8],[70,7.1],[73,6.2],[76,6.9],[79,8.4],[82,7.5],[85,9.2],[88,10.8],[91,9.6],[94,12.5],[97,15],[100,13.2],[103,17],[106,21],[109,18.5],[112,24],[115,29],[118,26],[121,33],[124,39],[127,35],[130,44],[133,38],[136,46],[139,40],[142,35],[145,38],[148,31],[151,33],[154,27],[157,29],[161,23],[165,19],[170,15.5],[175,12.5],[181,10],[188,7.8],[196,6],[205,4.6],[215,3.6],[226,2.9],[238,2.4],[248,2.2],[256,2.6],[262,2.3],[270,2.5],[277,3.2],[281,2.8],[285,4.2],[289,3.5],[293,5.2],[296,4.3],[300,6.8],[303,5.2],[307,4.6],[311,5.8],[315,4.9],[319,6.5],[323,5.2],[328,4.5],[333,5.3],[338,4.5],[344,4.1],[351,4.6],[358,4.2],[365,4]];
const year61 = [[1,0.9],[6,1],[11,0.9],[16,1.2],[21,1],[26,0.9],[31,1.1],[36,1],[41,0.95],[46,1.15],[51,1.05],[56,1],[61,1.2],[66,1.1],[71,1.3],[76,1.5],[81,1.4],[86,1.8],[91,2.2],[96,2],[101,2.8],[106,3.6],[110,3.2],[114,4.6],[118,5.8],[122,5.1],[126,7],[130,8.6],[134,7.6],[138,10],[142,11.8],[145,10.2],[148,11.5],[151,9.6],[155,10.4],[159,8.3],[163,7],[168,5.8],[174,4.6],[181,3.6],[189,2.8],[198,2.1],[208,1.6],[218,1.3],[226,1.2],[230,2.1],[233,3.8],[236,2.3],[241,1.5],[248,1.2],[254,1.5],[258,3.2],[261,1.9],[267,1.3],[274,1.2],[281,1.5],[286,2.6],[289,1.9],[294,1.6],[300,2.3],[304,1.8],[310,1.6],[316,2.2],[320,1.7],[326,1.5],[333,1.8],[340,1.5],[348,1.4],[356,1.3],[365,1.3]];
const year62 = [[1,2.1],[5,2.4],[9,2.2],[13,2.7],[17,2.4],[21,3.1],[25,2.6],[29,2.3],[33,2.8],[37,2.5],[41,3.3],[45,2.8],[49,2.5],[53,3],[57,2.7],[61,3.2],[65,2.9],[68,4.5],[70,8.8],[72,6],[75,4.3],[79,3.9],[83,4.6],[87,5.5],[91,5],[95,6.6],[99,8.2],[102,7.3],[105,9.8],[108,12.5],[111,11],[114,14.8],[117,18.5],[120,16.2],[123,21],[126,26],[129,23],[132,29],[135,34],[138,30],[141,37],[144,32],[147,35],[150,29],[153,31],[156,25],[159,27],[162,21],[166,18],[170,14.8],[174,12.2],[179,9.8],[184,7.9],[190,6.3],[196,5],[200,6.5],[203,10],[205,7.4],[209,5.2],[215,4],[223,3.1],[232,2.5],[242,2.1],[252,1.9],[262,1.9],[270,2.2],[277,2.9],[282,2.5],[287,3.8],[290,3.1],[295,2.8],[300,4.5],[304,3.5],[309,3.1],[315,4.1],[320,3.4],[326,3],[333,3.5],[340,3],[348,2.8],[356,2.6],[365,2.5]];
const year63 = [[1,1.4],[5,1.6],[10,1.5],[15,1.8],[20,1.6],[25,1.5],[30,1.7],[35,1.9],[40,1.7],[45,1.6],[50,1.8],[55,2.1],[60,1.9],[65,2.2],[70,2.5],[75,2.3],[80,2.8],[85,3.4],[90,3.1],[95,4],[100,4.8],[105,5.9],[110,7.4],[114,6.6],[118,9],[122,11.5],[126,10.2],[130,13.5],[134,17],[137,15],[140,19.5],[143,24],[146,21.5],[149,27],[152,32],[155,29],[158,36],[161,43],[163,39],[165,48],[167,53],[169,46],[171,50],[173,41],[175,44],[177,36],[180,31],[183,33],[186,27],[190,22],[194,17.5],[199,13.5],[205,10.2],[212,7.6],[220,5.6],[229,4.1],[239,3.1],[250,2.4],[262,2],[274,1.9],[284,2.3],[290,2.9],[294,2.5],[300,3.3],[306,2.8],[312,3.4],[318,2.9],[325,2.6],[333,2.9],[342,2.5],[352,2.3],[365,2.2]];
const year64 = [[1,1.8],[5,2.1],[9,1.9],[14,2.3],[19,2],[24,1.9],[29,2.2],[34,2],[39,1.8],[44,2.1],[49,1.9],[54,2.3],[59,2.1],[64,2.5],[69,2.3],[74,2.8],[79,3.3],[84,3],[89,3.9],[94,4.8],[98,4.3],[102,6],[106,7.8],[110,7],[114,9.6],[118,12.5],[122,11],[126,15],[130,19],[133,17],[136,22],[139,26],[142,23],[145,28],[148,24],[151,26],[154,21],[157,23],[161,18.5],[165,15.5],[170,12.5],[176,9.8],[183,7.5],[191,5.7],[200,4.3],[210,3.3],[221,2.6],[233,2.1],[245,1.8],[257,1.7],[268,1.8],[278,2.3],[285,2.8],[290,3.6],[293,7],[295,16],[296,28],[298,14],[301,8.5],[305,6],[309,4.9],[314,5.8],[318,4.6],[323,4],[328,4.9],[332,4.1],[337,3.7],[341,4.5],[343,8],[344,15],[346,9],[349,6],[353,4.7],[358,4],[365,3.6]];
const year65 = [[1,6.5],[3,5.8],[6,5],[9,4.4],[12,4.9],[15,4.1],[18,3.7],[21,4.2],[24,3.6],[27,3.3],[30,3.8],[33,3.3],[36,3],[39,3.5],[42,3.1],[45,2.9],[48,3.4],[51,3],[54,2.8],[57,3.3],[60,3.8],[63,3.3],[66,3.9],[69,4.6],[72,4],[75,5],[78,6.1],[81,5.3],[84,6.9],[87,8.5],[90,7.4],[93,9.8],[96,12],[99,10.5],[102,14],[105,17.5],[108,15.3],[111,20],[114,24],[117,21],[120,27],[123,33],[126,29],[129,36],[132,41],[135,35],[138,38],[141,31],[144,34],[147,27],[150,29],[153,23],[157,20],[161,16.5],[166,13.5],[171,11],[177,8.8],[184,6.9],[192,5.3],[201,4.1],[211,3.2],[222,2.6],[234,2.1],[246,1.8],[258,1.7],[270,1.8],[280,2.2],[286,2.9],[290,2.5],[295,3.6],[299,3],[304,4.2],[308,3.4],[313,3],[318,3.7],[323,3.2],[330,2.9],[338,3.3],[346,2.9],[355,2.7],[365,2.6]];
const year66 = [[1,1.7],[6,1.9],[11,1.8],[16,2.1],[21,1.9],[26,1.8],[31,2],[36,2.2],[41,2],[46,1.9],[51,2.1],[56,2.4],[61,2.2],[66,2.6],[71,3],[76,2.8],[81,3.5],[86,4.3],[90,3.9],[94,5.2],[98,6.6],[102,6],[106,8.2],[110,10.8],[113,9.6],[116,13],[119,17],[122,15],[125,20],[128,26],[131,23],[134,31],[137,38],[140,34],[143,44],[146,53],[148,48],[150,60],[152,67],[154,58],[156,63],[158,54],[160,57],[162,47],[164,50],[166,41],[169,36],[172,38],[175,31],[179,26],[183,21],[188,17],[193,13.5],[199,10.5],[206,8],[214,6],[223,4.5],[233,3.4],[244,2.7],[256,2.2],[268,2],[280,2.2],[288,2.7],[293,2.4],[298,3.2],[303,2.8],[309,3.5],[315,3],[322,2.7],[330,3.1],[340,2.7],[352,2.5],[365,2.4]];
const year67 = [[1,1.5],[30,1.5],[60,1.7],[80,2.2],[92,3.4],[100,5.2],[105,7.5],[109,10.5],[112,14],[115,19],[117,25],[119,22],[121,31],[123,40],[125,35],[127,48],[129,58],[131,45],[133,62],[135,50],[137,70],[139,55],[141,64],[143,47],[145,58],[147,44],[149,52],[151,38],[153,42],[155,32],[158,27],[161,22],[165,17.5],[170,13.5],[176,10],[183,7.3],[191,5.2],[201,3.7],[213,2.6],[230,1.9],[252,1.5],[275,1.4],[300,1.8],[325,2.1],[350,1.9],[365,1.8]];
const year68 = [[1,2],[30,2],[60,2.3],[82,2.9],[96,4.3],[105,6.4],[111,9],[116,12],[120,16],[123,14],[126,19],[129,25],[132,22],[134,30],[136,37],[138,33],[140,43],[142,52],[144,45],[146,57],[148,49],[150,66],[152,53],[154,61],[156,47],[158,56],[160,43],[162,48],[164,37],[166,41],[168,32],[171,27],[174,29],[177,23],[181,18.5],[186,14.5],[192,11],[199,8.2],[207,6],[217,4.3],[229,3.1],[243,2.3],[260,1.9],[280,1.8],[305,2.2],[330,2.5],[365,2.3]];
const year69 = [[1,1.2],[30,1.2],[60,1.4],[82,1.9],[96,3],[104,4.8],[110,7],[115,9.8],[119,13],[122,17],[125,23],[127,20],[129,27],[131,33],[133,28],[135,37],[137,31],[139,42],[141,35],[143,45],[145,37],[147,41],[149,33],[151,39],[153,30],[155,35],[157,27],[160,30],[163,23],[166,19],[170,15],[175,11.5],[181,8.6],[188,6.4],[197,4.6],[208,3.3],[222,2.4],[240,1.8],[262,1.4],[285,1.4],[310,1.7],[335,1.6],[365,1.5]];
const year70 = [[1,1.7],[30,1.7],[60,2],[84,2.6],[98,3.9],[108,5.9],[116,8.6],[122,12],[127,16],[131,21],[134,19],[137,26],[139,33],[141,29],[143,40],[145,50],[147,43],[149,57],[151,68],[153,55],[155,73],[157,59],[159,50],[161,54],[163,42],[165,46],[167,36],[170,30],[173,32],[176,25],[180,20],[185,15.5],[191,11.5],[198,8.5],[206,6.2],[216,4.4],[228,3.2],[242,2.4],[260,1.9],[280,1.8],[305,2.1],[330,2.3],[365,2.1]];

const years = [year01,year02,year03,year04,year05,year06,year07,year08,year09,year10,
               year11,year12,year13,year14,year15,year16,year17,year18,year19,year20,
               year21,year22,year23,year24,year25,year26,year27,year28,year29,year30,
               year31,year32,year33,year34,year35,year36,year37,year38,year39,year40,
               year41,year42,year43,year44,year45,year46,year47,year48,year49,year50,
               year51,year52,year53,year54,year55,year56,year57,year58,year59,year60,
               year61,year62,year63,year64,year65,year66,year67,year68,year69,year70];

// ---------- build tables ----------
const blue = years.flatMap((s, k) => s.map(([day, flow]) => ({year: k, day, flow})));
const before = medianBefore.map(([day, flow]) => ({day, flow}));
const after = medianAfter.map(([day, flow]) => ({day, flow}));
const monthOf = new Map(monthTicks.map((t, i) => [t, monthLabels[i]]));

const GREEN = "#008a00", RED = "#d00000", BLUE = "#a9dcf7";
const FONT = "'Liberation Sans', Arial, Helvetica, sans-serif";

const plot = Plot.plot({
  width: 1018,
  height: 759,
  marginLeft: 126,
  marginRight: -9.6,
  marginTop: 25.3,
  marginBottom: 50,
  style: {fontFamily: FONT, color: "#111", background: "#fff", overflow: "hidden"},
  x: {domain: [-13.5, 379.5]},
  y: {domain: [-2.11, 54.1]},
  marks: [
    Plot.line(blue, {x: "day", y: "flow", z: "year", stroke: BLUE, strokeWidth: 1.1, clip: true}),
    Plot.line(before, {x: "day", y: "flow", stroke: GREEN, strokeWidth: 1.3, clip: true}),
    Plot.line(after, {x: "day", y: "flow", stroke: RED, strokeWidth: 1.3, clip: true}),
    Plot.frame({stroke: "#222", strokeWidth: 1.2}),
    Plot.axisX({anchor: "bottom", ticks: monthTicks, tickFormat: d => monthOf.get(d),
                tickSize: 12, tickPadding: 16, fontSize: 22, label: null, stroke: "#222"}),
    Plot.axisX({anchor: "top", ticks: monthTicks, tickFormat: () => "",
                tickSize: 12, label: null, stroke: "#222"}),
    Plot.axisY({anchor: "left", ticks: yTicks, tickSize: 11, tickPadding: 15,
                fontSize: 22, label: null, stroke: "#222"}),
    Plot.text(["Flow (cms)"], {frameAnchor: "left", textAnchor: "middle", dx: -97, dy: -11,
                rotate: -90, fontSize: 33, fill: "#111"})
  ]
});

// legend (layout only)
const svg = d3.select(plot);
svg.selectAll("text").filter(function() { return this.textContent === "Flow (cms)"; })
   .attr("letter-spacing", "1.6px");
const legend = [
  {label: "median before 1986", color: GREEN, tx: 365, ty: 51, ly: 47.7},
  {label: "median after 1986",  color: RED,   tx: 360, ty: 68.3, ly: 65.3}
];
const lg = svg.append("g").attr("font-family", FONT).attr("font-size", 17);
legend.forEach(e => {
  lg.append("text").attr("x", e.tx).attr("y", e.ty)
    .attr("text-anchor", "end").attr("dominant-baseline", "middle")
    .attr("letter-spacing", "1.2px").attr("fill", "#111").text(e.label);
  lg.append("line").attr("x1", 365).attr("x2", 436).attr("y1", e.ly).attr("y2", e.ly)
    .attr("stroke", e.color).attr("stroke-width", 1.6);
});

document.getElementById("chart").append(plot);
</script>
</body>
</html>
